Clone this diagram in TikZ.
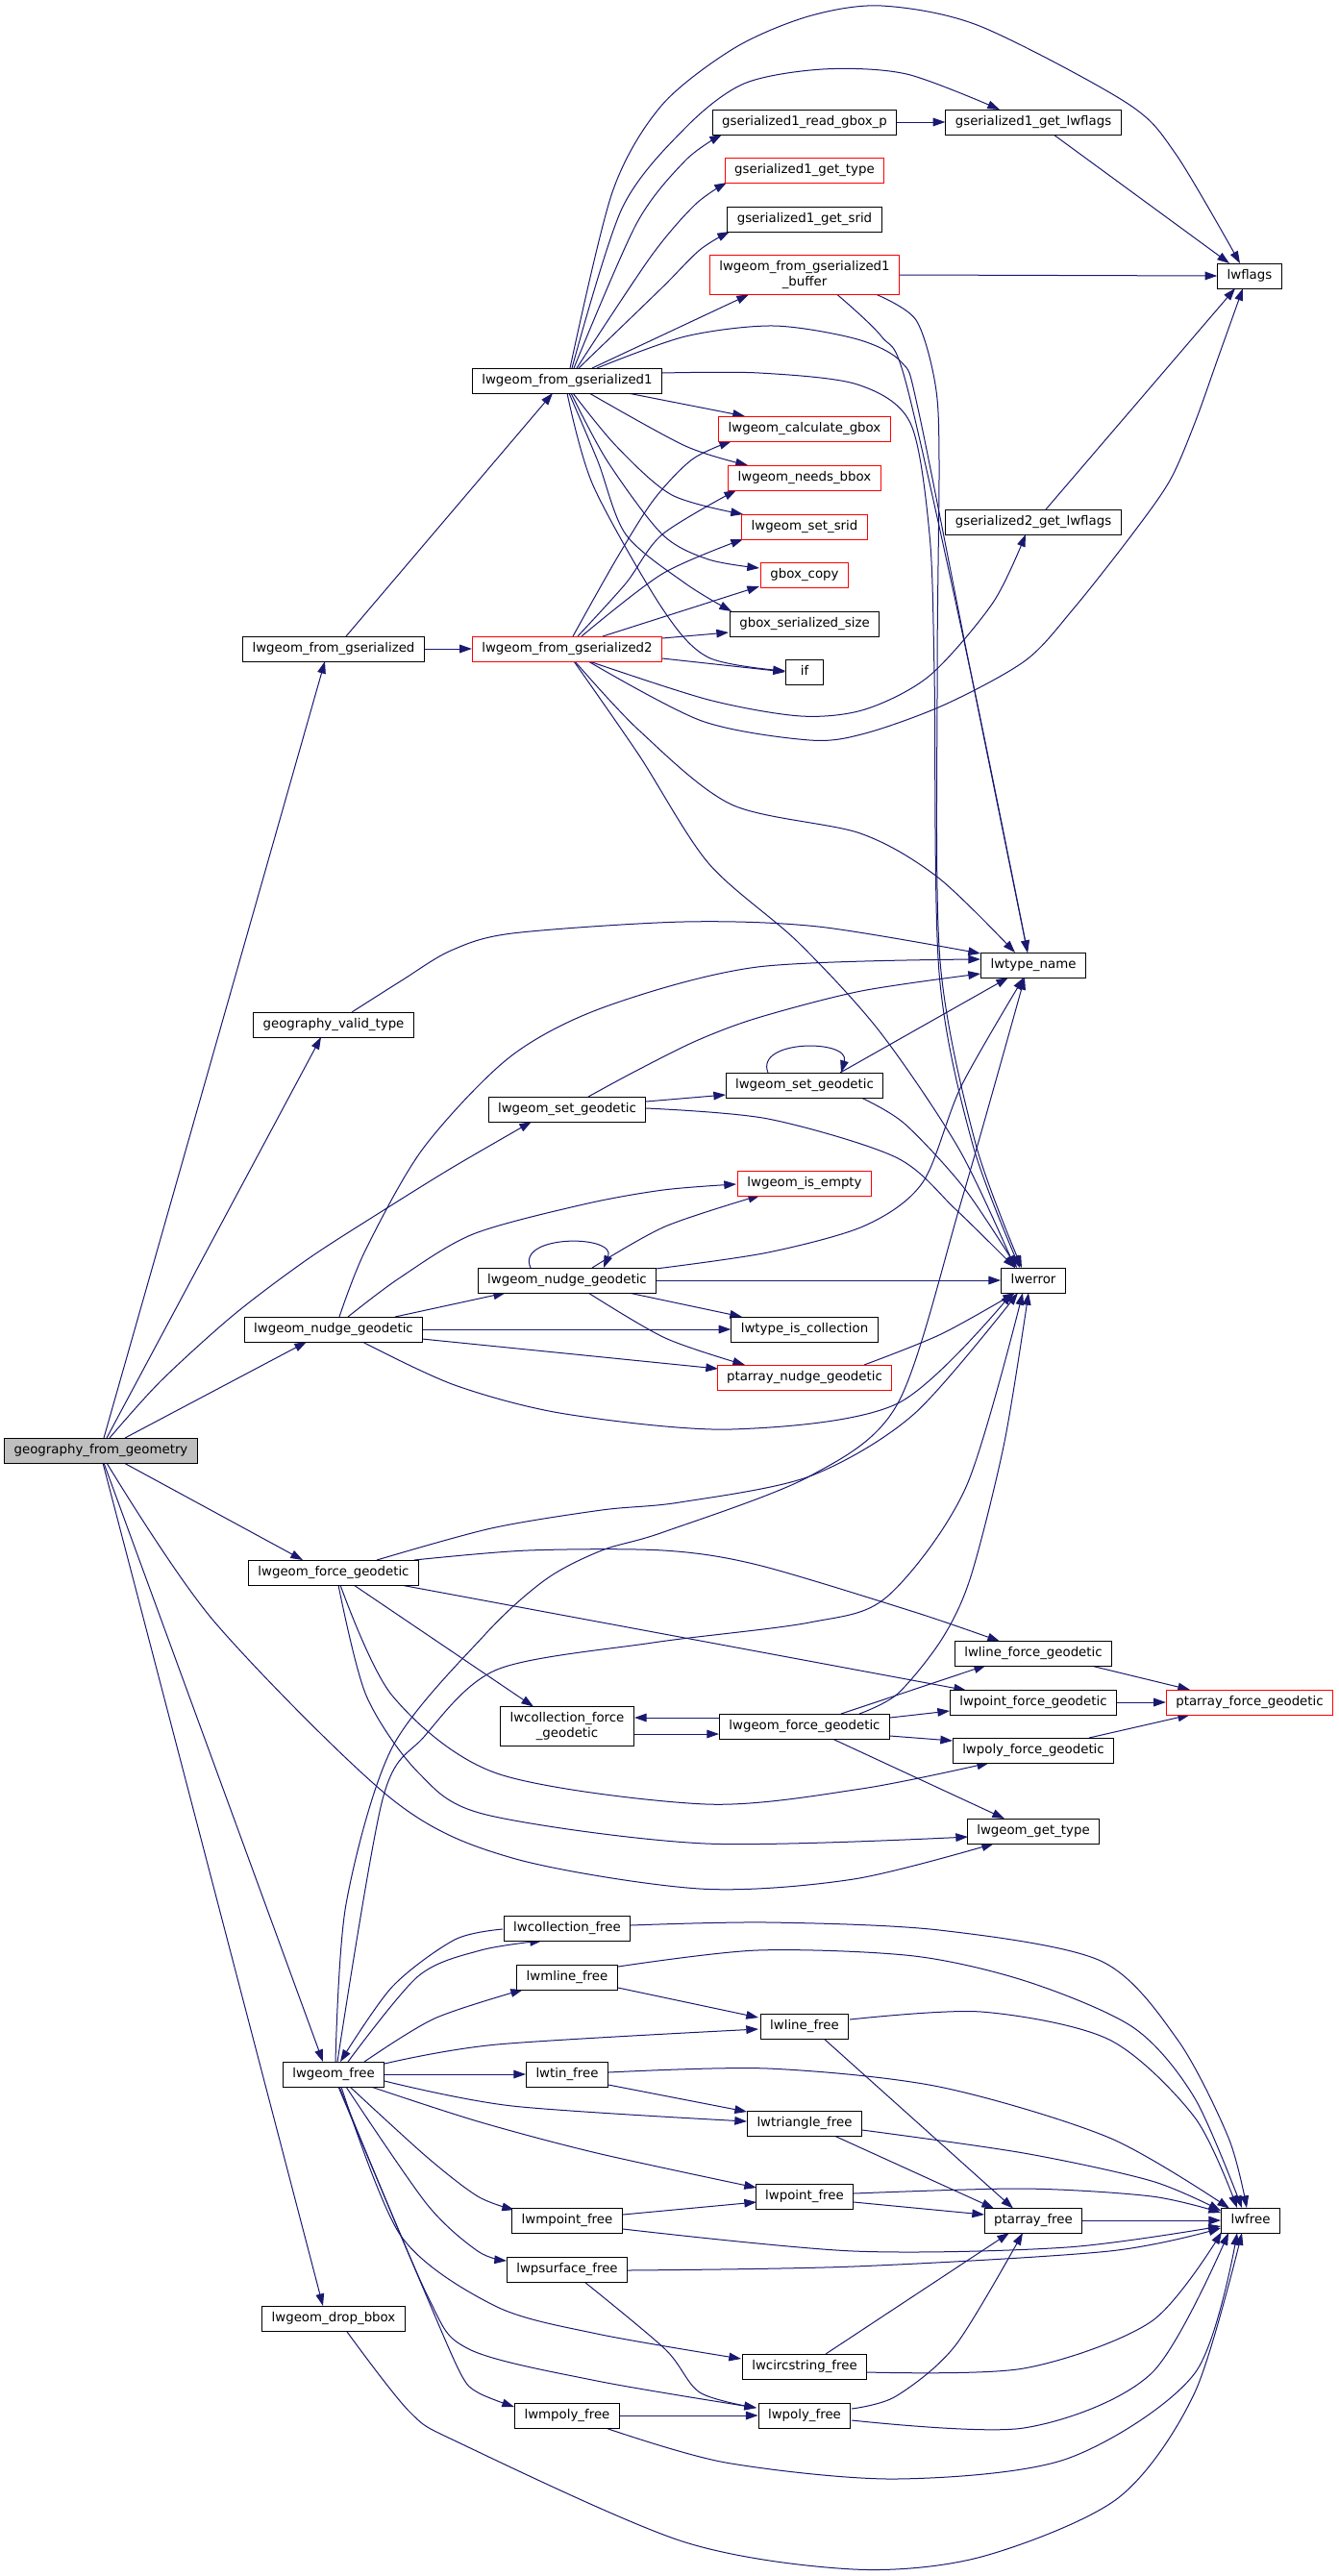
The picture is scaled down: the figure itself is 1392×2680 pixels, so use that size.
\documentclass[tikz,border=0pt]{standalone}
\usepackage{fontspec}
\setmainfont{DejaVu Sans}
\usetikzlibrary{arrows.meta,calc,backgrounds}
\definecolor{navy}{RGB}{25,25,112}
\definecolor{nodegray}{RGB}{191,191,191}
\tikzset{
  nb/.style={draw=black, line width=0.75pt, fill=white, inner xsep=7.5pt, inner ysep=2pt,
     font=\fontsize{10}{11.5}\selectfont},
  box/.style={nb, minimum height=19.5pt, text height=7.3pt, text depth=2.3pt},
  rbox/.style={box, draw=red},
  box2/.style={nb, align=center, minimum height=30.75pt},
  rbox2/.style={box2, draw=red},
  e/.style={draw=navy, line width=0.75pt, -{Triangle[length=9.5pt,width=6.5pt]}},
}
\begin{document}
\begin{tikzpicture}[x=0.75pt,y=-0.75pt]
\useasboundingbox (0,0) rectangle (1392,2680);
% nodes
\node[box, fill=nodegray] (gfg) at (105,1509) {geography\_from\_geometry};
\node[box] (lfg) at (347,675) {lwgeom\_from\_gserialized};
\node[box] (lfgA) at (590,396) {lwgeom\_from\_gserialized1};
\node[rbox] (lfgB) at (590,675) {lwgeom\_from\_gserialized2};
\node[box] (rgb) at (837,127) {gserialized1\_read\_gbox\_p};
\node[box] (glwA) at (1075,127) {gserialized1\_get\_lwflags};
\node[rbox] (gtA) at (837,177) {gserialized1\_get\_type};
\node[box] (gsA) at (837,228) {gserialized1\_get\_srid};
\node[rbox2] (buf) at (837,286) {lwgeom\_from\_gserialized1\\\_buffer};
\node[box] (flags) at (1300,287) {lwflags};
\node[rbox] (cgb) at (837,446) {lwgeom\_calculate\_gbox};
\node[rbox] (nbb) at (837,497) {lwgeom\_needs\_bbox};
\node[rbox] (ssr) at (837,548) {lwgeom\_set\_srid};
\node[box] (glwB) at (1075,543) {gserialized2\_get\_lwflags};
\node[rbox] (gcp) at (837,598) {gbox\_copy};
\node[box] (gss) at (837,649) {gbox\_serialized\_size};
\node[box, minimum width=29pt] (nif) at (837,699) {if};
\node[box] (tname) at (1075,1004) {lwtype\_name};
\node[box] (gvt) at (347,1066) {geography\_valid\_type};
\node[box] (sgB) at (837,1129) {lwgeom\_set\_geodetic};
\node[box] (sgA) at (590,1154) {lwgeom\_set\_geodetic};
\node[rbox] (empty) at (837,1231) {lwgeom\_is\_empty};
\node[box] (ngB) at (590,1332) {lwgeom\_nudge\_geodetic};
\node[box] (err) at (1075,1332) {lwerror};
\node[box] (ngA) at (347,1383) {lwgeom\_nudge\_geodetic};
\node[box] (tic) at (837,1383) {lwtype\_is\_collection};
\node[rbox] (png) at (837,1433) {ptarray\_nudge\_geodetic};
\node[box] (fgA) at (347,1636) {lwgeom\_force\_geodetic};
\node[box] (lfgd) at (1075,1720) {lwline\_force\_geodetic};
\node[box] (pfgd) at (1075,1771) {lwpoint\_force\_geodetic};
\node[rbox] (paf) at (1300,1771) {ptarray\_force\_geodetic};
\node[box2] (cfg) at (590,1796) {lwcollection\_force\\\_geodetic};
\node[box] (fgB) at (837,1796) {lwgeom\_force\_geodetic};
\node[box] (polyf) at (1075,1821) {lwpoly\_force\_geodetic};
\node[box] (gtype) at (1075,1905) {lwgeom\_get\_type};
\node[box] (cfree) at (590,2006) {lwcollection\_free};
\node[box] (mlfree) at (590,2057) {lwmline\_free};
\node[box] (lfree) at (837,2108) {lwline\_free};
\node[box] (gfree) at (347,2158) {lwgeom\_free};
\node[box] (tinfree) at (590,2158) {lwtin\_free};
\node[box] (trifree) at (837,2209) {lwtriangle\_free};
\node[box] (ptfree) at (837,2285) {lwpoint\_free};
\node[box] (mptfree) at (590,2310) {lwmpoint\_free};
\node[box] (pafree) at (1075,2310) {ptarray\_free};
\node[box] (lwfree) at (1301,2310) {lwfree};
\node[box] (psfree) at (590,2361) {lwpsurface\_free};
\node[box] (dropbb) at (347,2412) {lwgeom\_drop\_bbox};
\node[box] (csfree) at (837,2462) {lwcircstring\_free};
\node[box] (mpfree) at (590,2513) {lwmpoly\_free};
\node[box] (pfree) at (837,2513) {lwpoly\_free};

\begin{pgfonlayer}{background}
\fill[white] (0,0) rectangle (1392,2680);
% lwgeom_from_gserialized
\draw[e] ($(lfg)+(13,-13)$) -- ($(lfgA)+(-15,13)$);
\draw[e] (lfg.east) -- (lfgB.west);
% geography_from_geometry
\draw[e] ($(gfg)+(3,-13)$) -- ($(lfg)+(-9,13)$);
\draw[e] ($(gfg)+(6,-13)$) -- ($(gvt)+(-13,13)$);
\draw[e] plot[smooth] coordinates {($(gfg)+(9,-13)$) (167,1437) (243,1368) (320,1310) (396,1261) (470,1215) ($(sgA)+(-37,13)$)};
\draw[e] ($(gfg)+(25,-13)$) -- ($(ngA)+(-28,13)$);
\draw[e] ($(gfg)+(24,13)$) -- ($(fgA)+(-32,-13)$);
\draw[e] plot[smooth] coordinates {($(gfg)+(6,13)$) (222,1686) (408,1872) (533,1933) (728,1965) (888,1955) ($(gtype)+(-41,13)$)};
\draw[e] ($(gfg)+(3,13)$) -- ($(gfree)+(-11,-13)$);
\draw[e] ($(gfg)+(2,13)$) -- ($(dropbb)+(-11,-13)$);
% lwgeom_from_gserialized1 top
\draw[e] plot[smooth] coordinates {($(lfgA)+(3,-13)$) (637,200) (688,110) (764,50) (841,17) (917,6) (1019,27) (1172,107) (1223,160) ($(flags)+(-10,-13)$)};
\draw[e] plot[smooth] coordinates {($(lfgA)+(5,-13)$) (647,217) (713,133) (774,87) (856,72) (943,77) ($(glwA)+(-35,-13)$)};
\draw[e] plot[smooth] coordinates {($(lfgA)+(7,-13)$) (662,233) (713,167) ($(rgb)+(-86,13)$)};
\draw[e] plot[smooth] coordinates {($(lfgA)+(10,-13)$) (677,267) (723,213) ($(gtA)+(-81,13)$)};
\draw[e] plot[smooth] coordinates {($(lfgA)+(12,-13)$) (688,300) (728,260) ($(gsA)+(-78,13)$)};
\draw[e] ($(lfgA)+(26,-13)$) -- ($(buf)+(-58,20.5)$);
\draw[e] plot[smooth] coordinates {($(lfgA)+(31,-13)$) (713,350) (805,339) (892,353) (938,377) (955,425) (1010,700) ($(tname)+(-6,-13)$)};
\draw[e] plot[smooth] coordinates {($(buf)+(34,20.5)$) (917,350) (943,400) (1010,700) ($(tname)+(-6,-13)$)};
\draw[e] plot[smooth] coordinates {($(lfgA)+(99,-8)$) (790,388) (892,400) (947,440) (967,556) (972,700) (977,1012) (1012,1191) ($(err)+(-14,-13)$)};
\draw[e] plot[smooth] coordinates {($(buf)+(75,20.5)$) (953,333) (973,400) (977,480) (975,709) (978,1000) (1015,1190) ($(err)+(-12,-13)$)};
\draw[e] (buf.east) -- (flags.west);
\draw[e] (rgb.east) -- (glwA.west);
\draw[e] ($(glwA)+(21,13)$) -- ($(flags)+(-21,-13)$);
\draw[e] ($(glwB)+(13,-13)$) -- ($(flags)+(-15,13)$);
% lwgeom_from_gserialized1 bottom
\draw[e] ($(lfgA)+(63,13)$) -- ($(cgb)+(-62,-13)$);
\draw[e] plot[smooth] coordinates {($(lfgA)+(23,13)$) (713,464) ($(nbb)+(-59,-13)$)};
\draw[e] plot[smooth] coordinates {($(lfgA)+(6,13)$) (641,464) (699,515) ($(ssr)+(-64,-13)$)};
\draw[e] plot[smooth] coordinates {($(lfgA)+(4,13)$) (632,480) (689,556) (737,582) ($(gcp)+(-47,-7)$)};
\draw[e] plot[smooth] coordinates {($(lfgA)+(2,13)$) (622,480) (651,556) (713,607) ($(gss)+(-76,-13)$)};
\draw[e] plot[smooth] coordinates {($(lfgA)+(0,13)$) (617,505) (689,633) (737,684) ($(nif)+(-20,-1)$)};
% lwgeom_from_gserialized2
\draw[e] plot[smooth] coordinates {($(lfgB)+(6,-13)$) (641,582) (680,520) (720,478) ($(cgb)+(-76,13)$)};
\draw[e] plot[smooth] coordinates {($(lfgB)+(11,-13)$) (651,607) (689,556) ($(nbb)+(-71,13)$)};
\draw[e] plot[smooth] coordinates {($(lfgB)+(15,-13)$) (689,597) ($(ssr)+(-64,13)$)};
\draw[e] ($(lfgB)+(37,-13)$) -- ($(gcp)+(-47,12)$);
\draw[e] ($(lfgB)+(99,-11)$) -- ($(gss)+(-79,9)$);
\draw[e] ($(lfgB)+(99,10)$) -- ($(nif)+(-20,0)$);
\draw[e] plot[smooth] coordinates {($(lfgB)+(23,13)$) (737,728) (833,745) (900,738) (967,703) (1033,627) ($(glwB)+(-8,13)$)};
\draw[e] plot[smooth] coordinates {($(lfgB)+(22,13)$) (730,750) (842,770) (900,763) (983,733) (1067,687) (1117,633) (1177,557) (1217,500) (1243,440) (1268,370) ($(flags)+(-7,13)$)};
\draw[e] plot[smooth] coordinates {($(lfgB)+(8,13)$) (665,760) (761,837) (895,867) (976,913) ($(tname)+(-19,-13)$)};
\draw[e] plot[smooth] coordinates {($(lfgB)+(7,13)$) (665,786) (737,898) (830,980) (915,1073) (998,1196) ($(err)+(-19,-13)$)};
% geography_valid_type, set_geodetic
\draw[e] plot[smooth] coordinates {($(gvt)+(19,-13)$) (418,1020) (469,989) (533,971) (711,959) (851,964) ($(tname)+(-55,-12)$)};
\draw[e] plot[smooth] coordinates {($(sgA)+(22,-13)$) (660,1115) (724,1083) (788,1059) (896,1031) ($(tname)+(-55,9)$)};
\draw[e] ($(sgB)+(37,-13)$) -- ($(tname)+(-26,13)$);
\draw[e] ($(sgB)+(-38,-13)$) .. controls ($(sgB)+(-52,-48)$) and ($(sgB)+(48,-48)$) .. ($(sgB)+(38,-13)$);
\draw[e] ($(sgA)+(82,-8)$) -- ($(sgB)+(-82,10)$);
\draw[e] plot[smooth] coordinates {($(sgA)+(82,-1)$) (799,1164) (932,1204) (994,1258) ($(err)+(-19,-13)$)};
\draw[e] plot[smooth] coordinates {($(sgB)+(59,13)$) (941,1169) (1003,1236) ($(err)+(-17,-13)$)};
% nudge
\draw[e] plot[smooth] coordinates {($(ngA)+(6,-13)$) (380,1301) (440,1195) (530,1100) (628,1048) (788,1006) ($(tname)+(-55,-6)$)};
\draw[e] ($(ngA)+(64,-13)$) -- ($(ngB)+(-64,13)$);
\draw[e] plot[smooth] coordinates {($(ngA)+(15,-13)$) (415,1330) (492,1284) (607,1253) (690,1238) ($(empty)+(-71,1)$)};
\draw[e] (ngA.east) -- (tic.west);
\draw[e] ($(ngA)+(92,10)$) -- ($(png)+(-90,-9)$);
\draw[e] plot[smooth] coordinates {($(ngA)+(30,13)$) (473,1441) (588,1471) (761,1487) (934,1460) ($(err)+(-22,13)$)};
\draw[e] ($(ngB)+(-38,-13)$) .. controls ($(ngB)+(-54,-48)$) and ($(ngB)+(52,-48)$) .. ($(ngB)+(38,-13)$);
\draw[e] plot[smooth] coordinates {($(ngB)+(26,-13)$) (692,1276) ($(empty)+(-46,12.5)$)};
\draw[e] (ngB.east) -- (err.west);
\draw[e] plot[smooth] coordinates {($(ngB)+(92,-12)$) (799,1303) (900,1275) (960,1230) (1000,1130) ($(tname)+(-10,13)$)};
\draw[e] ($(ngB)+(64,13)$) -- ($(tic)+(-65,-13)$);
\draw[e] plot[smooth] coordinates {($(ngB)+(22,13)$) (692,1392) ($(png)+(-62,-13)$)};
\draw[e] plot[smooth] coordinates {($(png)+(62,-13)$) (979,1388) ($(err)+(-19,13)$)};
% force geodetic
\draw[e] plot[smooth] coordinates {($(fgA)+(45,-13)$) (511,1590) (626,1571) (707,1563) (842,1536) (951,1471) ($(err)+(-16,13)$)};
\draw[e] plot[smooth] coordinates {($(fgA)+(84,-13)$) (549,1613) (690,1613) (788,1628) (951,1677) ($(lfgd)+(-35,-12.5)$)};
\draw[e] ($(fgA)+(70,13)$) -- ($(pfgd)+(-70,-12.5)$);
\draw[e] ($(fgA)+(21,13)$) -- ($(cfg)+(-35,-20.5)$);
\draw[e] plot[smooth] coordinates {($(fgA)+(7,13)$) (408,1764) (517,1845) (734,1877) (896,1861) ($(polyf)+(-46,13)$)};
\draw[e] plot[smooth] coordinates {($(fgA)+(5,13)$) (381,1764) (436,1845) (506,1888) (734,1918) ($(gtype)+(-68,6)$)};
\draw[e] ($(fgB)+(-89,-9)$) -- ($(cfg)+(70,-9)$);
\draw[e] ($(cfg)+(70,8)$) -- ($(fgB)+(-89,8)$);
\draw[e] ($(fgB)+(38,-13)$) -- ($(lfgd)+(-49,12.5)$);
\draw[e] ($(fgB)+(89,-9)$) -- ($(pfgd)+(-87,9)$);
\draw[e] ($(fgB)+(89,10)$) -- ($(polyf)+(-84,-10)$);
\draw[e] ($(fgB)+(29,13)$) -- ($(gtype)+(-30,-13)$);
\draw[e] plot[smooth] coordinates {($(fgB)+(57,-13)$) (934,1762) (980,1705) (1010,1640) (1045,1500) ($(err)+(-5,13)$)};
\draw[e] ($(lfgd)+(58,12.5)$) -- ($(paf)+(-62,-13)$);
\draw[e] (pfgd.east) -- (paf.west);
\draw[e] ($(polyf)+(58,-13)$) -- ($(paf)+(-62,13)$);
% lwgeom_free
\draw[e] plot[smooth] coordinates {($(gfree)+(2,-13)$) (360,1981) (408,1818) (505,1700) (568,1643) (626,1613) (690,1594) (842,1536) (934,1460) (1000,1250) ($(tname)+(-9,13)$)};
\draw[e] plot[smooth] coordinates {($(gfree)+(4,-13)$) (398,1872) (441,1807) (517,1737) (679,1709) (842,1688) (923,1661) (1005,1547) ($(err)+(-11,13)$)};
\draw[e] plot[smooth] coordinates {($(gfree)+(15,-13)$) (435,2056) (500,2029) ($(cfree)+(-26,13)$)};
\draw[e] plot[smooth] coordinates {($(cfree)+(-67,1)$) (473,2018) (408,2067) ($(gfree)+(7,-13)$)};
\draw[e] plot[smooth] coordinates {($(gfree)+(32,-13)$) (452,2100) ($(mlfree)+(-46,13)$)};
\draw[e] plot[smooth] coordinates {($(gfree)+(53,-11)$) (517,2127) ($(lfree)+(-48,3)$)};
\draw[e] ($(mlfree)+(53,11)$) -- ($(lfree)+(-48,-9)$);
\draw[e] (gfree.east) -- (tinfree.west);
\draw[e] plot[smooth] coordinates {($(gfree)+(53,7)$) (533,2191) ($(trifree)+(-60,-2)$)};
\draw[e] ($(tinfree)+(43,11)$) -- ($(trifree)+(-60,-12)$);
\draw[e] plot[smooth] coordinates {($(gfree)+(39,13)$) (497,2207) (621,2240) ($(ptfree)+(-50,-9)$)};
\draw[e] plot[smooth] coordinates {($(gfree)+(17,13)$) (444,2244) (497,2285) ($(mptfree)+(-55,-11)$)};
\draw[e] plot[smooth] coordinates {($(gfree)+(13,13)$) (444,2293) (497,2342) ($(psfree)+(-63,-9)$)};
\draw[e] plot[smooth] coordinates {($(gfree)+(8,13)$) (417,2326) (515,2399) (621,2428) ($(csfree)+(-66,-8)$)};
\draw[e] plot[smooth] coordinates {($(gfree)+(6,13)$) (444,2387) (488,2444) (621,2477) ($(pfree)+(-50,-8)$)};
\draw[e] plot[smooth] coordinates {($(gfree)+(5,13)$) (440,2380) (479,2469) (497,2489) ($(mpfree)+(-55,-9)$)};
% to lwfree / ptarray_free
\draw[e] plot[smooth] coordinates {($(cfree)+(66,-3)$) (799,2000) (977,2008) (1145,2040) (1225,2122) (1278,2224) ($(lwfree)+(-4,-13)$)};
\draw[e] plot[smooth] coordinates {($(mlfree)+(53,-11)$) (788,2029) (951,2035) (1070,2062) (1180,2110) (1243,2183) ($(lwfree)+(-9,-13)$)};
\draw[e] plot[smooth] coordinates {($(lfree)+(47,-7)$) (1021,2093) (1154,2122) (1243,2203) ($(lwfree)+(-14,-13)$)};
\draw[e] ($(lfree)+(19,12)$) -- ($(pafree)+(-21,-12.5)$);
\draw[e] plot[smooth] coordinates {($(tinfree)+(43,-2)$) (799,2152) (977,2171) (1154,2224) ($(lwfree)+(-22,-12.5)$)};
\draw[e] ($(trifree)+(31,13)$) -- ($(pafree)+(-41,-12.5)$);
\draw[e] plot[smooth] coordinates {($(trifree)+(60,7)$) (1065,2240) (1198,2269) ($(lwfree)+(-31,-10)$)};
\draw[e] ($(ptfree)+(51,6)$) -- ($(pafree)+(-51,-6)$);
\draw[e] plot[smooth] coordinates {($(ptfree)+(51,-3)$) (1065,2277) (1198,2285) ($(lwfree)+(-31,-8)$)};
\draw[e] ($(mptfree)+(58,-6)$) -- ($(ptfree)+(-50,6)$);
\draw[e] plot[smooth] coordinates {($(mptfree)+(58,9)$) (888,2342) (1110,2338) ($(lwfree)+(-31,6)$)};
\draw[e] (pafree.east) -- (lwfree.west);
\draw[e] plot[smooth] coordinates {($(psfree)+(63,1)$) (888,2358) (1154,2342) ($(lwfree)+(-31,8)$)};
\draw[e] plot[smooth] coordinates {($(psfree)+(18,13)$) (692,2444) (728,2489) ($(pfree)+(-50,-8)$)};
\draw[e] ($(csfree)+(22,-13)$) -- ($(pafree)+(-25,13)$);
\draw[e] plot[smooth] coordinates {($(csfree)+(65,6)$) (1065,2464) (1198,2415) ($(lwfree)+(-30,12)$)};
\draw[e] plot[smooth] coordinates {($(pfree)+(49,-7)$) (932,2493) (994,2440) ($(pafree)+(-11,13)$)};
\draw[e] plot[smooth] coordinates {($(pfree)+(49,5)$) (1065,2526) (1198,2469) ($(lwfree)+(-23,13)$)};
\draw[e] (mpfree.east) -- (pfree.west);
\draw[e] plot[smooth] coordinates {($(mpfree)+(40,13)$) (755,2562) (932,2579) (1110,2558) (1243,2469) ($(lwfree)+(-14,13)$)};
\draw[e] plot[smooth] coordinates {($(dropbb)+(13,12.5)$) (426,2509) (479,2542) (710,2644) (888,2673) (1021,2660) (1163,2599) (1243,2489) ($(lwfree)+(-9,13)$)};
\end{pgfonlayer}
\end{tikzpicture}
\end{document}
